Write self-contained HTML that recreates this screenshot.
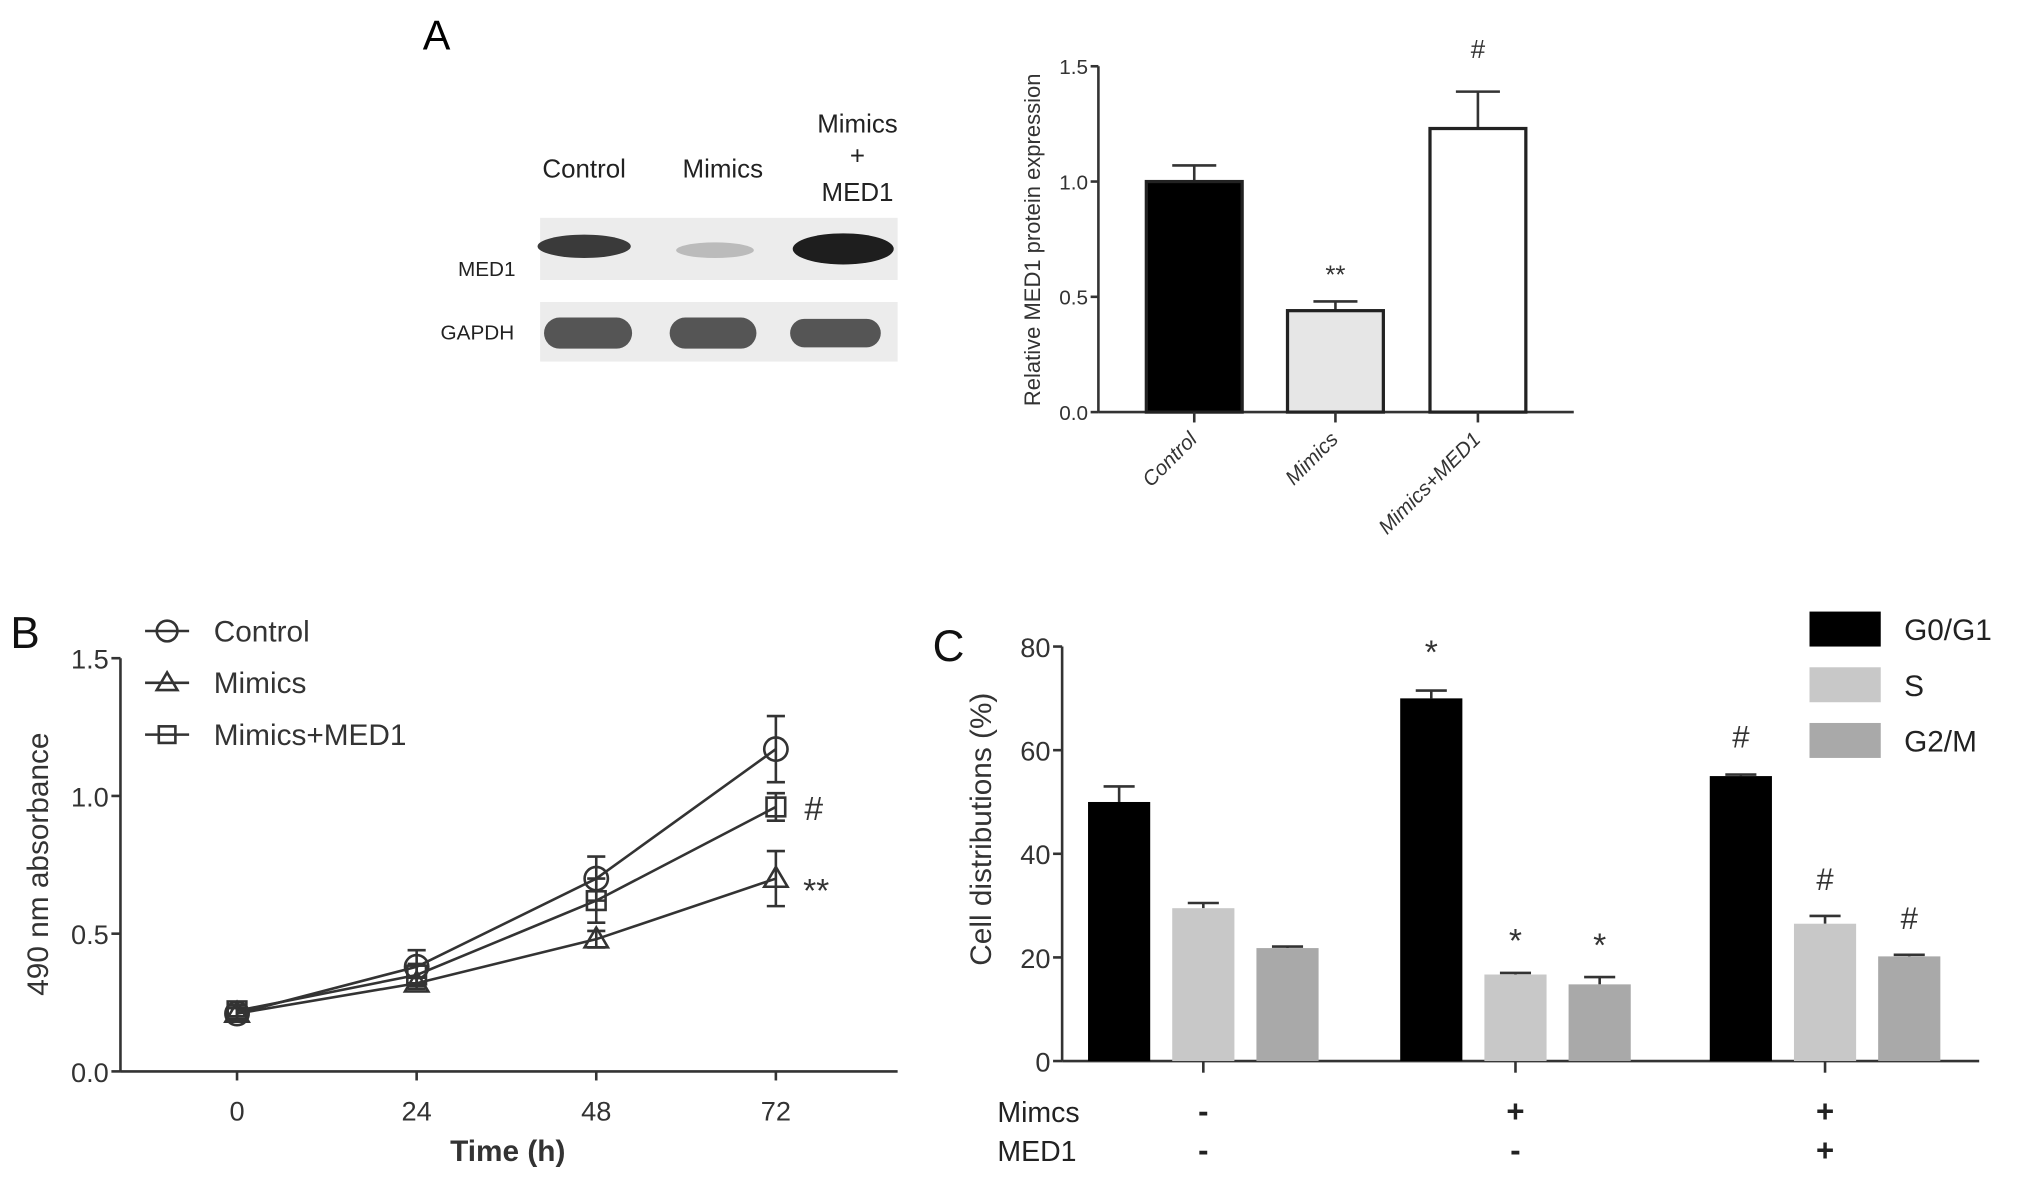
<!DOCTYPE html>
<html><head><meta charset="utf-8"><style>
html,body{margin:0;padding:0;background:#fff;}
svg{display:block;font-family:"Liberation Sans",Arial,sans-serif;}
</style></head><body>
<svg id="fig" width="2031" height="1183" viewBox="0 0 1568 913" xmlns="http://www.w3.org/2000/svg">
<rect width="1568" height="913" fill="#fff"/>
<!-- Panel A blot -->
<text x="337" y="38" font-size="32" text-anchor="middle">A</text>
<g font-size="20" fill="#222" text-anchor="middle">
<text x="451" y="137">Control</text>
<text x="558" y="137">Mimics</text>
<text x="662" y="102">Mimics</text>
<text x="662" y="127">+</text>
<text x="662" y="155">MED1</text>
</g>
<rect x="417" y="168" width="276" height="48" fill="#ececec"/>
<rect x="417" y="233" width="276" height="46" fill="#ececec"/>
<ellipse cx="451" cy="190" rx="36" ry="9" fill="#3a3a3a"/>
<ellipse cx="552" cy="193" rx="30" ry="6" fill="#bbb"/>
<ellipse cx="651" cy="192" rx="39" ry="12" fill="#1e1e1e"/>
<rect x="420" y="245" width="68" height="24" rx="12" fill="#555"/>
<rect x="517" y="245" width="67" height="24" rx="12" fill="#555"/>
<rect x="610" y="246" width="70" height="22" rx="11" fill="#555"/>
<text x="398" y="213" font-size="16" fill="#222" text-anchor="end">MED1</text>
<text x="397" y="262" font-size="16" fill="#222" text-anchor="end">GAPDH</text>
<g id="chartA"></g>
<g id="chartB"></g>
<g id="chartC"></g>
</svg>
<script>
var NS="http://www.w3.org/2000/svg";
function mk(parent,tag,attrs,text){var e=document.createElementNS(NS,tag);for(var k in attrs)e.setAttribute(k,attrs[k]);if(text!==undefined)e.textContent=text;parent.appendChild(e);return e;}

// ---------- Panel A bar chart ----------
var aCats=["Control","Mimics","Mimics+MED1"];
var aVals=[1.0,0.44,1.23];
var aErr=[0.07,0.04,0.16];
var aFills=["#000","#e6e6e6","#fff"];
var aMarks=["","**","#"];
var aTicks=[0,0.5,1.0,1.5];
(function(){
var g=document.getElementById("chartA");
var x0=848,yb=318,yt=51,ymax=1.5;
function Y(v){return yb-(v/ymax)*(yb-yt);}
var centers=[922,1031,1141],bw=74;
var ax=mk(g,"line",{x1:x0,y1:yt,x2:x0,y2:yb,stroke:"#333","stroke-width":2});


var xx=mk(g,"line",{x1:x0,y1:yb,x2:1215,y2:yb,stroke:"#333","stroke-width":2});


aTicks.forEach(function(t){
 mk(g,"line",{x1:x0-6,y1:Y(t),x2:x0,y2:Y(t),stroke:"#333","stroke-width":2});
 var tl=mk(g,"text",{x:x0-8,y:Y(t)+6,"font-size":16,"text-anchor":"end",fill:"#333"},t.toFixed(1));
 
 
});
aCats.forEach(function(c,i){
 var cx=centers[i],v=aVals[i];
 mk(g,"line",{x1:cx,y1:Y(v),x2:cx,y2:Y(v+aErr[i]),stroke:"#333","stroke-width":2});
 mk(g,"line",{x1:cx-17,y1:Y(v+aErr[i]),x2:cx+17,y2:Y(v+aErr[i]),stroke:"#333","stroke-width":2});
 var b=mk(g,"rect",{x:cx-bw/2,y:Y(v),width:bw,height:yb-Y(v),fill:aFills[i],stroke:"#222","stroke-width":2.5});
 
 
 mk(g,"line",{x1:cx,y1:yb,x2:cx,y2:yb+8,stroke:"#333","stroke-width":2});
 var l=mk(g,"text",{x:cx+3,y:yb+22,"font-size":16,"font-style":"italic","text-anchor":"end",fill:"#333",transform:"rotate(-45 "+(cx+3)+" "+(yb+22)+")"},c);
 
 
 if(aMarks[i]){var m=mk(g,"text",{x:cx,y:Y(v+aErr[i])-(i==2?26:14),"font-size":20,"text-anchor":"middle",fill:"#333"},aMarks[i]);
 
 }
});
var yt2=mk(g,"text",{x:803,y:185,"font-size":17,"text-anchor":"middle",fill:"#333",transform:"rotate(-90 803 185)"},"Relative MED1 protein expression");


})();

// ---------- Panel B line chart ----------
var bTimes=[0,24,48,72];
var bControl=[0.21,0.38,0.70,1.17];
var bControlErr=[0.02,0.06,0.08,0.12];
var bMimics=[0.21,0.32,0.48,0.70];
var bMimicsErr=[0.02,0.02,0.03,0.10];
var bMed1=[0.22,0.35,0.62,0.96];
var bMed1Err=[0.02,0.04,0.08,0.05];
var bSeries=["Control","Mimics","Mimics+MED1"];
var bYTicks=[0,0.5,1.0,1.5];
(function(){
var g=document.getElementById("chartB");
var x0=93,yb=827,yt=508;
function Y(v){return yb-(v/1.5)*(yb-yt);}
function X(t){return 183+(t/72)*(599-183);}
var l=mk(g,"text",{x:8,y:500,"font-size":34,fill:"#111"},"B");


mk(g,"line",{x1:x0,y1:yt,x2:x0,y2:yb,stroke:"#333","stroke-width":2});
mk(g,"line",{x1:x0,y1:yb,x2:693,y2:yb,stroke:"#333","stroke-width":2});
bYTicks.forEach(function(t){
 mk(g,"line",{x1:x0-7,y1:Y(t),x2:x0,y2:Y(t),stroke:"#333","stroke-width":2});
 var tl=mk(g,"text",{x:x0-9,y:Y(t)+8,"font-size":21,"text-anchor":"end",fill:"#333"},t.toFixed(1));
 
 
});
bTimes.forEach(function(t){
 mk(g,"line",{x1:X(t),y1:yb,x2:X(t),y2:yb+7,stroke:"#333","stroke-width":2});
 var tl=mk(g,"text",{x:X(t),y:yb+38,"font-size":21,"text-anchor":"middle",fill:"#333"},String(t));
 
 
});
var xt=mk(g,"text",{x:392,y:896,"font-size":23,"font-weight":"bold","text-anchor":"middle",fill:"#333"},"Time (h)");


var yt3=mk(g,"text",{x:37,y:667,"font-size":23,"text-anchor":"middle",fill:"#333",transform:"rotate(-90 37 667)"},"490 nm  absorbance");


var data=[bControl,bMimics,bMed1],errs=[bControlErr,bMimicsErr,bMed1Err],shapes=["circle","triangle","square"];
function marker(p,shape,cx,cy,r){
 if(shape=="circle")return mk(p,"circle",{cx:cx,cy:cy,r:r,fill:"none",stroke:"#333","stroke-width":2});
 if(shape=="square")return mk(p,"rect",{x:cx-r*0.8,y:cy-r*0.8,width:r*1.6,height:r*1.6,fill:"none",stroke:"#333","stroke-width":2});
 return mk(p,"polygon",{points:(cx)+","+(cy-r)+" "+(cx-r)+","+(cy+r*0.7)+" "+(cx+r)+","+(cy+r*0.7),fill:"none",stroke:"#333","stroke-width":2});
}
data.forEach(function(d,s){
 var pts=d.map(function(v,i){return X(bTimes[i])+","+Y(v);}).join(" ");
 var pl=mk(g,"polyline",{points:pts,fill:"none",stroke:"#333","stroke-width":2});
 
 
 d.forEach(function(v,i){
  var cx=X(bTimes[i]),e=errs[s][i];
  mk(g,"line",{x1:cx,y1:Y(v-e),x2:cx,y2:Y(v+e),stroke:"#333","stroke-width":2});
  mk(g,"line",{x1:cx-7,y1:Y(v+e),x2:cx+7,y2:Y(v+e),stroke:"#333","stroke-width":2});
  mk(g,"line",{x1:cx-7,y1:Y(v-e),x2:cx+7,y2:Y(v-e),stroke:"#333","stroke-width":2});
  var m=marker(g,shapes[s],cx,Y(v),9);
  
  
 });
 var ly=487+s*40;
 mk(g,"line",{x1:112,y1:ly,x2:146,y2:ly,stroke:"#333","stroke-width":2});
 var lm=marker(g,shapes[s],129,ly,8);
 
 
 var lt=mk(g,"text",{x:165,y:ly+8,"font-size":23,fill:"#333"},bSeries[s]);
 
 
});
var h=mk(g,"text",{x:621,y:Y(bMed1[3])+10,"font-size":26,fill:"#333"},"#");


var a=mk(g,"text",{x:620,y:Y(bMimics[3])+18,"font-size":26,fill:"#333"},"**");


})();

// ---------- Panel C grouped bars ----------
var cPhases=["G0/G1","S","G2/M"];
var cG0=[50,70,55];
var cG0Err=[3,1.5,0.3];
var cS=[29.5,16.7,26.5];
var cSErr=[1,0.3,1.5];
var cG2=[21.8,14.8,20.2];
var cG2Err=[0.3,1.4,0.3];
var cG0Marks=["","*","#"];
var cSMarks=["","*","#"];
var cG2Marks=["","*","#"];
var cMimics=["-","+","+"];
var cMed1=["-","-","+"];
var cYTicks=[0,20,40,60,80];
(function(){
var g=document.getElementById("chartC");
var x0=820,yb=819,yt=499;
function Y(v){return yb-(v/80)*(yb-yt);}
var centers=[929,1170,1409],off=[-65,0,65],bw=48;
var fills=["#000","#c8c8c8","#a9a9a9"];
var l=mk(g,"text",{x:720,y:510,"font-size":34,fill:"#111"},"C");


mk(g,"line",{x1:x0,y1:yt,x2:x0,y2:yb,stroke:"#333","stroke-width":2});
mk(g,"line",{x1:x0,y1:yb,x2:1528,y2:yb,stroke:"#333","stroke-width":2});
cYTicks.forEach(function(t){
 mk(g,"line",{x1:x0-7,y1:Y(t),x2:x0,y2:Y(t),stroke:"#333","stroke-width":2});
 var tl=mk(g,"text",{x:x0-9,y:Y(t)+8,"font-size":21,"text-anchor":"end",fill:"#333"},String(t));
 
 
});
var yt4=mk(g,"text",{x:765,y:640,"font-size":23,"text-anchor":"middle",fill:"#333",transform:"rotate(-90 765 640)"},"Cell distributions (%)");


var vals=[cG0,cS,cG2],errs=[cG0Err,cSErr,cG2Err],marks=[cG0Marks,cSMarks,cG2Marks];
centers.forEach(function(c,gi){
 mk(g,"line",{x1:c,y1:yb,x2:c,y2:yb+9,stroke:"#333","stroke-width":2});
 vals.forEach(function(arr,s){
  var cx=c+off[s],v=arr[gi],e=errs[s][gi];
  mk(g,"line",{x1:cx,y1:Y(v),x2:cx,y2:Y(v+e),stroke:"#333","stroke-width":2});
  mk(g,"line",{x1:cx-12,y1:Y(v+e),x2:cx+12,y2:Y(v+e),stroke:"#333","stroke-width":2});
  var b=mk(g,"rect",{x:cx-bw/2,y:Y(v),width:bw,height:yb-Y(v),fill:fills[s]});
  
  
  var mt=marks[s][gi];
  if(mt){var m=mk(g,"text",{x:cx,y:Y(v+e)-(s==0?21:(mt=="*"?16:20)),"font-size":mt=="*"?26:24,"text-anchor":"middle",fill:"#333"},mt);
  
  }
 });
 var s1=mk(g,"text",{x:c,y:866,"font-size":24,"font-weight":"bold","text-anchor":"middle",fill:"#222"},cMimics[gi]);
 
 
 var s2=mk(g,"text",{x:c,y:896,"font-size":24,"font-weight":"bold","text-anchor":"middle",fill:"#222"},cMed1[gi]);
 
 
});
var r1=mk(g,"text",{x:770,y:866,"font-size":22,fill:"#222"},"Mimcs");


var r2=mk(g,"text",{x:770,y:896,"font-size":22,fill:"#222"},"MED1");


cPhases.forEach(function(p,s){
 var ly=472+s*43;
 var sw=mk(g,"rect",{x:1397,y:ly,width:55,height:27,fill:fills[s]});
 
 
 var lt=mk(g,"text",{x:1470,y:ly+22,"font-size":23,fill:"#222"},p);
 
 
});
})();
</script>
</body></html>
